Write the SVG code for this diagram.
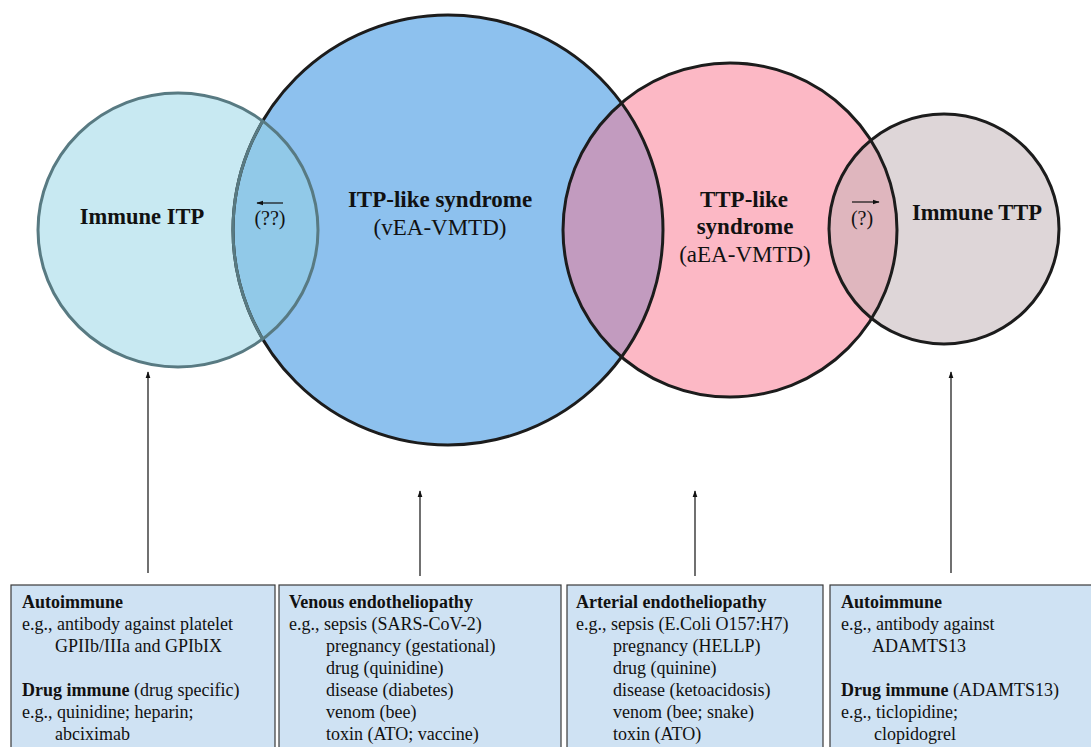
<svg xmlns="http://www.w3.org/2000/svg" width="1091" height="747" viewBox="0 0 1091 747">
<style>
.lbl{font-family:"Liberation Serif","Times New Roman",serif;font-size:23px;fill:#111;text-anchor:middle}
.imm{font-size:22.5px}
.b{font-weight:bold}
.q{font-family:"Liberation Serif","Times New Roman",serif;font-size:20px;fill:#111;text-anchor:middle}
.box{fill:#cfe2f3;stroke:#3a3a3a;stroke-width:1.2}
.bt{font-family:"Liberation Serif","Times New Roman",serif;font-size:18px;fill:#111}
.conn{stroke:#111;stroke-width:1.2;fill:none}
.ring{fill:none;stroke:#1c1c1c;stroke-width:3}
</style>
<defs>
<marker id="ah" viewBox="0 0 10 10" refX="9" refY="5" markerWidth="7" markerHeight="7" orient="auto" markerUnits="userSpaceOnUse">
<path d="M0,1.5 L10,5 L0,8.5 z" fill="#111"/>
</marker>
<clipPath id="cC1"><ellipse cx="178" cy="230" rx="140" ry="137"/></clipPath>
<clipPath id="cBlue"><circle cx="448" cy="230" r="215"/></clipPath>
<clipPath id="cPink"><circle cx="730" cy="230" r="167"/></clipPath>
</defs>

<g id="itp-like">
<circle cx="448" cy="230" r="215" fill="#8dc1ee"/>
</g>
<g id="ttp-like">
<circle cx="730" cy="230" r="167" fill="#fcb8c5"/>
</g>
<g id="immune-ttp">
<circle cx="944" cy="229" r="115" fill="#ded6d8"/>
</g>
<g id="immune-itp">
<ellipse cx="178" cy="230" rx="140" ry="137" fill="#c8e9f2"/>
</g>

<g id="overlaps">
<g clip-path="url(#cC1)"><circle cx="448" cy="230" r="215" fill="#91c9e8"/></g>
<g clip-path="url(#cBlue)"><circle cx="730" cy="230" r="167" fill="#c29bbf"/></g>
<g clip-path="url(#cPink)"><circle cx="944" cy="229" r="115" fill="#dfb6be"/></g>
</g>

<g id="rings">
<circle class="ring" cx="448" cy="230" r="215"/>
<circle class="ring" cx="730" cy="230" r="167"/>
<circle class="ring" cx="944" cy="229" r="115"/>
<g clip-path="url(#cC1)"><circle cx="448" cy="230" r="215" fill="none" stroke="#587a82" stroke-width="3"/></g>
<ellipse cx="178" cy="230" rx="140" ry="137" fill="none" stroke="#587a82" stroke-width="3"/>
</g>

<g id="labels">
<text class="lbl imm b" x="142" y="224">Immune ITP</text>
<text class="q" x="270" y="225">(??)</text>
<text class="lbl b" x="440" y="207">ITP-like syndrome</text>
<text class="lbl" x="440" y="235">(vEA-VMTD)</text>
<text class="lbl b" x="744" y="207">TTP-like</text>
<text class="lbl b" x="745" y="234">syndrome</text>
<text class="lbl" x="745" y="262">(aEA-VMTD)</text>
<text class="q" x="862" y="225">(?)</text>
<text class="lbl imm b" x="977" y="220">Immune TTP</text>
</g>

<g id="connectors">
<line class="conn" x1="283" y1="203" x2="257" y2="203" marker-end="url(#ah)"/>
<line class="conn" x1="852" y1="202" x2="879" y2="202" marker-end="url(#ah)"/>
<line class="conn" x1="148" y1="573" x2="148" y2="372" marker-end="url(#ah)"/>
<line class="conn" x1="420" y1="576" x2="420" y2="491" marker-end="url(#ah)"/>
<line class="conn" x1="695" y1="576" x2="695" y2="491" marker-end="url(#ah)"/>
<line class="conn" x1="951" y1="573" x2="951" y2="372" marker-end="url(#ah)"/>
</g>

<g id="box-immune-itp">
<rect class="box" x="11" y="585" width="264" height="170"/>
<text class="bt" x="22" y="608"><tspan font-weight="bold">Autoimmune</tspan></text>
<text class="bt" x="22" y="630">e.g., antibody against platelet</text>
<text class="bt" x="55" y="652">GPIIb/IIIa and GPIbIX</text>
<text class="bt" x="22" y="696"><tspan font-weight="bold">Drug immune</tspan> (drug specific)</text>
<text class="bt" x="22" y="718">e.g., quinidine; heparin;</text>
<text class="bt" x="55" y="740">abciximab</text>
</g>

<g id="box-venous">
<rect class="box" x="279" y="585" width="282" height="170"/>
<text class="bt" x="289" y="608" font-weight="bold">Venous endotheliopathy</text>
<text class="bt" x="289" y="630">e.g., sepsis (SARS-CoV-2)</text>
<text class="bt" x="326" y="652">pregnancy (gestational)</text>
<text class="bt" x="326" y="674">drug (quinidine)</text>
<text class="bt" x="326" y="696">disease (diabetes)</text>
<text class="bt" x="326" y="718">venom (bee)</text>
<text class="bt" x="326" y="740">toxin (ATO; vaccine)</text>
</g>

<g id="box-arterial">
<rect class="box" x="567" y="585" width="256" height="170"/>
<text class="bt" x="576" y="608" font-weight="bold">Arterial endotheliopathy</text>
<text class="bt" x="576" y="630">e.g., sepsis (E.Coli O157:H7)</text>
<text class="bt" x="613" y="652">pregnancy (HELLP)</text>
<text class="bt" x="613" y="674">drug (quinine)</text>
<text class="bt" x="613" y="696">disease (ketoacidosis)</text>
<text class="bt" x="613" y="718">venom (bee; snake)</text>
<text class="bt" x="613" y="740">toxin (ATO)</text>
</g>

<g id="box-immune-ttp">
<rect class="box" x="830" y="585" width="270" height="170"/>
<text class="bt" x="841" y="608" font-weight="bold">Autoimmune</text>
<text class="bt" x="841" y="630">e.g., antibody against</text>
<text class="bt" x="872" y="652">ADAMTS13</text>
<text class="bt" x="841" y="696"><tspan font-weight="bold">Drug immune</tspan> (ADAMTS13)</text>
<text class="bt" x="841" y="718">e.g., ticlopidine;</text>
<text class="bt" x="874" y="740">clopidogrel</text>
</g>
</svg>
